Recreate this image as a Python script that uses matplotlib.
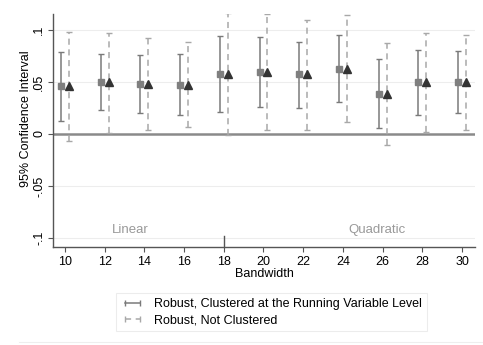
import matplotlib
matplotlib.use("Agg")
import matplotlib.pyplot as plt
from matplotlib.lines import Line2D
import numpy as np

plt.rcParams['font.family'] = ['Liberation Sans', 'DejaVu Sans']

bandwidth = [10, 12, 14, 16, 18, 20, 22, 24, 26, 28, 30]
estimate = [0.046, 0.050, 0.048, 0.0475, 0.0576, 0.0599, 0.0573, 0.0627, 0.0389, 0.0497, 0.0503]
clustered_lo = [0.0127, 0.023, 0.020, 0.018, 0.021, 0.026, 0.0251, 0.0309, 0.0057, 0.0185, 0.0204]
clustered_hi = [0.079, 0.077, 0.076, 0.077, 0.094, 0.093, 0.0888, 0.0948, 0.072, 0.081, 0.0796]
robust_lo = [-0.0064, 0.001, 0.004, 0.0064, -0.001, 0.0038, 0.0038, 0.0115, -0.0102, 0.0016, 0.0041]
robust_hi = [0.098, 0.0974, 0.092, 0.0885, 0.116, 0.1156, 0.110, 0.114, 0.0876, 0.097, 0.0955]
yticks = [-0.1, -0.05, 0, 0.05, 0.1]
ytick_labels = ['-.1', '-.05', '0', '.05', '.1']
legend_labels = ['Robust, Clustered at the Running Variable Level', 'Robust, Not Clustered']

fig = plt.figure(figsize=(4.83, 3.45), dpi=100)
ax = fig.add_axes([0.1097, 0.2841, 0.8737, 0.6753])

x = np.array(bandwidth, dtype=float)
est = np.array(estimate)
off = 0.2

solid_col = '#7a7a7a'
dash_col = '#a8a8a8'

for yv in [-0.1, -0.05, 0.05, 0.1]:
    ax.axhline(yv, color='#ededed', lw=0.8, zorder=0)
ax.axhline(0, color='#8a8a8a', lw=1.8, zorder=1)

eb1 = ax.errorbar(x - off, est,
                  yerr=[est - np.array(clustered_lo), np.array(clustered_hi) - est],
                  fmt='none', ecolor=solid_col, elinewidth=1.1, capsize=2, capthick=1.0, zorder=2)
eb2 = ax.errorbar(x + off, est,
                  yerr=[est - np.array(robust_lo), np.array(robust_hi) - est],
                  fmt='none', ecolor=dash_col, elinewidth=1.1, capsize=2, capthick=1.0, zorder=2)
for lc in eb2[2]:
    lc.set_linestyle((0, (4, 3)))

ax.plot(x - off, est, 's', color='#7f7f7f', markersize=5, zorder=3)
ax.plot(x + off, est, '^', color='#333333', markersize=5.5, zorder=3)

ax.set_xlim(9.4, 30.65)
ax.set_ylim(-0.1087, 0.1154)
ax.set_xticks(bandwidth)
ax.set_yticks(yticks)
ax.set_yticklabels(ytick_labels, rotation=90, va='center')
ax.tick_params(axis='both', labelsize=9, length=3.5, color='#555555', width=0.8, pad=3)
ax.tick_params(axis='y', pad=2)

for s in ['top', 'right']:
    ax.spines[s].set_visible(False)
for s in ['left', 'bottom']:
    ax.spines[s].set_color('#555555')
    ax.spines[s].set_linewidth(1.0)

ax.set_xlabel('Bandwidth', fontsize=9, labelpad=0)
ax.set_ylabel('95% Confidence Interval', fontsize=9, labelpad=0)
ax.yaxis.set_label_coords(-0.05, 0.55)

ax.text(13.3, -0.092, 'Linear', color='#999999', fontsize=9.5, ha='center', va='center')
ax.text(25.7, -0.092, 'Quadratic', color='#999999', fontsize=9.5, ha='center', va='center')
ax.plot([18, 18], [-0.1087, -0.098], color='#555555', lw=1.0, clip_on=False, zorder=4)

handles = [Line2D([], [], color=solid_col, lw=1.1, marker='|', markersize=5),
           Line2D([], [], color=dash_col, lw=1.1, ls=(0, (4, 3)), marker='|', markersize=5)]
leg = fig.legend(handles, legend_labels, loc='upper left', bbox_to_anchor=(0.2277, 0.168),
                 numpoints=2, fontsize=9, frameon=True, fancybox=False, handlelength=1.8,
                 handletextpad=0.8, borderpad=0.4, labelspacing=0.3)
leg.get_frame().set_edgecolor('#e8e8e8')
leg.get_frame().set_linewidth(0.8)

fig.add_artist(Line2D([0.04, 1.0], [0.01, 0.01], color='#eeeeee', lw=0.8))

fig.savefig('out.png', dpi=100)
